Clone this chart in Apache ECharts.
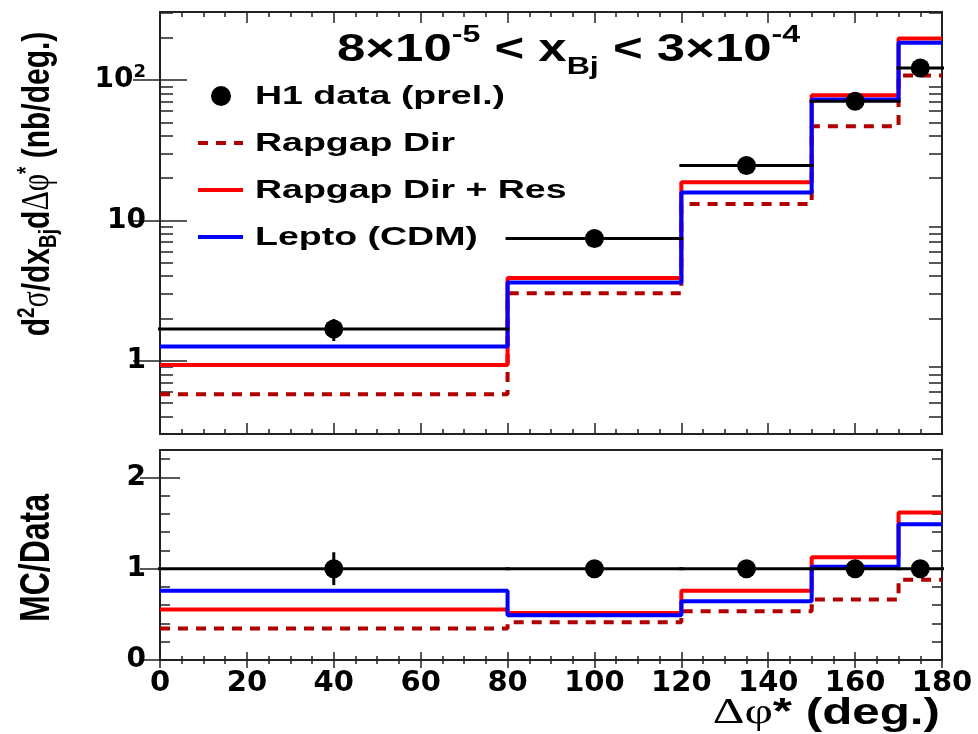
<!DOCTYPE html>
<html>
<head>
<meta charset="utf-8">
<script src="https://cdn.jsdelivr.net/npm/echarts@6/dist/echarts.min.js"></script>
<style>
  html, body { margin: 0; padding: 0; background: #fff; }
  #chart { width: 978px; height: 734px; }
</style>
</head>
<body>
<div id="chart"></div>
<script>
// bins in delta phi* (deg.)
var binEdges = [0, 80, 120, 150, 170, 180];
var dataX = [40, 100, 135, 160, 175];
// cross section, nb/deg.
var dataY = [1.68, 7.44, 24.6, 70.8, 122];
var dataErr = [0.3, 0.4, 1.0, 2.5, 4];
var rapDir = [0.575, 3.03, 13.1, 46.9, 108];
var rapDirRes = [0.93, 3.88, 18.7, 78.1, 198];
var lepto = [1.26, 3.61, 15.8, 72.8, 185];
// MC / data
var ratioData = [1, 1, 1, 1, 1];
var ratioErr = [0.18, 0.05, 0.04, 0.04, 0.04];
var ratioRapDir = [0.344, 0.413, 0.534, 0.663, 0.879];
var ratioRapDirRes = [0.553, 0.516, 0.758, 1.124, 1.615];
var ratioLepto = [0.758, 0.49, 0.644, 1.02, 1.487];
// ticks
var logMajor = [1, 10, 100];
var logMinor = [0.3, 0.4, 0.5, 0.6, 0.7, 0.8, 0.9, 2, 3, 4, 5, 6, 7, 8, 9, 20, 30, 40, 50, 60, 70, 80, 90, 200, 300];
var ratioMajor = [0, 1, 2];
var ratioMinor = [0.2, 0.4, 0.6, 0.8, 1.2, 1.4, 1.6, 1.8, 2.2];

var FONT = 'DejaVu Sans';
var SANS = 'Liberation Sans';
var SERIF = 'Liberation Serif';
var chart = echarts.init(document.getElementById('chart'));

function steps(vals) {
  return binEdges.map(function(e, i) { return [e, vals[Math.min(i, vals.length - 1)]]; });
}

function renderPoint(params, api) {
  var i = params.dataIndex;
  var y = api.value(1), err = api.value(2);
  var c = api.coord([api.value(0), y]);
  var lo = api.coord([binEdges[i], y]);
  var hi = api.coord([binEdges[i + 1], y]);
  var up = api.coord([api.value(0), y + err]);
  var dn = api.coord([api.value(0), y - err]);
  return { type: 'group', children: [
    { type: 'line', shape: { x1: lo[0] - 2, y1: c[1], x2: hi[0] + 2, y2: c[1] }, style: { stroke: '#000', lineWidth: 3 } },
    { type: 'line', shape: { x1: c[0], y1: up[1], x2: c[0], y2: dn[1] }, style: { stroke: '#000', lineWidth: 3 } },
    { type: 'circle', shape: { cx: c[0], cy: c[1], r: 9.5 }, style: { fill: '#000' } }
  ]};
}

var tickStyle = { color: '#222', width: 1.5 };
var labelStyle = { fontFamily: FONT, fontWeight: 'bold', fontSize: 28, color: '#000' };

function xAx(grid, pos, showLabel, major, minor) {
  return {
    type: 'value', gridIndex: grid, position: pos, min: 0, max: 180, interval: 20,
    axisLine: { show: false }, splitLine: { show: false },
    axisTick: { show: true, inside: true, length: major, lineStyle: tickStyle },
    minorTick: { show: true, splitNumber: 4, length: minor, lineStyle: tickStyle },
    axisLabel: showLabel ? Object.assign({ margin: 9, formatter: function(v) { return String(v); } }, labelStyle, { fontSize: 29 }) : { show: false }
  };
}

function yAx(grid, pos, type, min, max, ticks, len, labels) {
  var ax = {
    type: type, gridIndex: grid, position: pos, min: min, max: max,
    axisLine: { show: false }, splitLine: { show: false },
    axisTick: { show: true, inside: true, length: len, customValues: ticks, lineStyle: tickStyle },
    axisLabel: { show: false }
  };
  if (labels) ax.axisLabel = labels;
  return ax;
}

var lblRich = {
  b: { fontFamily: FONT, fontWeight: 'bold', fontSize: 28, color: '#000', lineHeight: 34 },
  s: { fontFamily: FONT, fontWeight: 'bold', fontSize: 18, color: '#000', lineHeight: 18, verticalAlign: 'top' }
};

function histo(name, vals, color, dashed, xi, yi, z) {
  return {
    name: name, type: 'line', step: 'end', xAxisIndex: xi, yAxisIndex: yi,
    data: steps(vals), symbol: 'none', z: z, silent: true,
    lineStyle: { color: color, width: 4, type: dashed ? [10, 8] : 'solid' }
  };
}

var titleRich = {
  n: { fontFamily: SANS, fontWeight: 'bold', fontSize: 38, color: '#000', lineHeight: 56 },
  sup: { fontFamily: SANS, fontWeight: 'bold', fontSize: 24, color: '#000', lineHeight: 24, verticalAlign: 'top' },
  sub: { fontFamily: SANS, fontWeight: 'bold', fontSize: 24, color: '#000', lineHeight: 24, verticalAlign: 'bottom' }
};
var yTitleRich = {
  n: { fontFamily: SANS, fontWeight: 'bold', fontSize: 30, color: '#000', lineHeight: 36 },
  g: { fontFamily: SERIF, fontSize: 30, color: '#000', lineHeight: 36 },
  sup: { fontFamily: SANS, fontWeight: 'bold', fontSize: 19, color: '#000', lineHeight: 19, verticalAlign: 'top' },
  sub: { fontFamily: SANS, fontWeight: 'bold', fontSize: 19, color: '#000', lineHeight: 19, verticalAlign: 'bottom' }
};

var legendItems = [
  { label: 'H1 data (prel.)', kind: 'dot' },
  { label: 'Rapgap Dir', kind: 'line', color: '#b00000', dash: [10, 8] },
  { label: 'Rapgap Dir + Res', kind: 'line', color: '#ff0000' },
  { label: 'Lepto (CDM)', kind: 'line', color: '#0000ff' }
];
var legendEls = [];
legendItems.forEach(function(it, i) {
  var y = 96 + i * 47;
  if (it.kind === 'dot') legendEls.push({ type: 'circle', shape: { cx: 221, cy: y, r: 10 }, style: { fill: '#000' } });
  else legendEls.push({ type: 'line', shape: { x1: 198, y1: y, x2: 243, y2: y }, style: { stroke: it.color, lineWidth: 4, lineDash: it.dash || null } });
  legendEls.push({ type: 'text', x: 255, y: y + 1, scaleX: 1.5, style: { text: it.label, fontFamily: SANS, fontWeight: 'bold', fontSize: 25, fill: '#000', textVerticalAlign: 'middle' } });
});

chart.setOption({
  animation: false,
  backgroundColor: '#fff',
  grid: [
    { left: 160, top: 12, width: 782, height: 422, show: true, borderColor: '#222', borderWidth: 2, backgroundColor: 'transparent' },
    { left: 160, top: 450, width: 782, height: 210, show: true, borderColor: '#222', borderWidth: 2, backgroundColor: 'transparent' }
  ],
  xAxis: [
    xAx(0, 'bottom', false, 11, 5),
    xAx(0, 'top', false, 11, 5),
    xAx(1, 'bottom', true, 8, 4),
    xAx(1, 'top', false, 8, 4)
  ],
  yAxis: [
    yAx(0, 'left', 'log', 0.3, 306, logMajor, 27, Object.assign({ show: true, margin: 14, customValues: logMajor, rich: lblRich,
      formatter: function(v) { return v === 100 ? '{b|10}{s|2}' : '{b|' + v + '}'; } }, labelStyle)),
    yAx(0, 'right', 'log', 0.3, 306, logMajor, 27),
    yAx(0, 'left', 'log', 0.3, 306, logMinor, 13),
    yAx(0, 'right', 'log', 0.3, 306, logMinor, 13),
    yAx(1, 'left', 'value', 0, 2.3, ratioMajor, 20, Object.assign({ show: true, margin: 14, customValues: ratioMajor }, labelStyle)),
    yAx(1, 'right', 'value', 0, 2.3, ratioMajor, 20),
    yAx(1, 'left', 'value', 0, 2.3, ratioMinor, 10),
    yAx(1, 'right', 'value', 0, 2.3, ratioMinor, 10)
  ],
  series: [
    histo('Rapgap Dir', rapDir, '#b00000', true, 0, 0, 2),
    histo('Rapgap Dir + Res', rapDirRes, '#ff0000', false, 0, 0, 3),
    histo('Lepto (CDM)', lepto, '#0000ff', false, 0, 0, 4),
    { name: 'H1 data (prel.)', type: 'custom', xAxisIndex: 0, yAxisIndex: 0, z: 5, clip: false, renderItem: renderPoint,
      data: dataX.map(function(x, i) { return [x, dataY[i], dataErr[i]]; }) },
    histo('Rapgap Dir', ratioRapDir, '#b00000', true, 2, 4, 2),
    histo('Rapgap Dir + Res', ratioRapDirRes, '#ff0000', false, 2, 4, 3),
    histo('Lepto (CDM)', ratioLepto, '#0000ff', false, 2, 4, 4),
    { name: 'H1 data (prel.)', type: 'custom', xAxisIndex: 2, yAxisIndex: 4, z: 5, clip: false, renderItem: renderPoint,
      data: dataX.map(function(x, i) { return [x, ratioData[i], ratioErr[i]]; }) }
  ],
  graphic: [
    { type: 'text', x: 337, y: 51, scaleX: 1.34, z: 10,
      style: { text: '{n|8×10}{sup|-5}{n| < x}{sub|Bj}{n| < 3×10}{sup|-4}', rich: titleRich, textVerticalAlign: 'middle' } },
    { type: 'text', x: 38, y: 184, rotation: Math.PI / 2, scaleY: 1.3, z: 10,
      style: { text: '{n|d}{sup|2}{g|σ}{n|/dx}{sub|Bj}{n|d}{g|Δφ}{sup|*}{n| (nb/deg.)}', rich: yTitleRich, textAlign: 'center', textVerticalAlign: 'middle' } },
    { type: 'text', x: 38, y: 558, rotation: Math.PI / 2, scaleY: 1.3, z: 10,
      style: { text: 'MC/Data', fontFamily: SANS, fontWeight: 'bold', fontSize: 32, fill: '#000', textAlign: 'center', textVerticalAlign: 'middle' } },
    { type: 'text', x: 940, y: 714, scaleX: 1.37, z: 10,
      style: { text: '{g|Δφ}{n|* (deg.)}', rich: {
        n: { fontFamily: SANS, fontWeight: 'bold', fontSize: 36, color: '#000' },
        g: { fontFamily: SERIF, fontSize: 36, color: '#000' } }, textAlign: 'right', textVerticalAlign: 'middle' } },
    { type: 'group', z: 10, children: legendEls }
  ]
});
</script>
</body>
</html>
